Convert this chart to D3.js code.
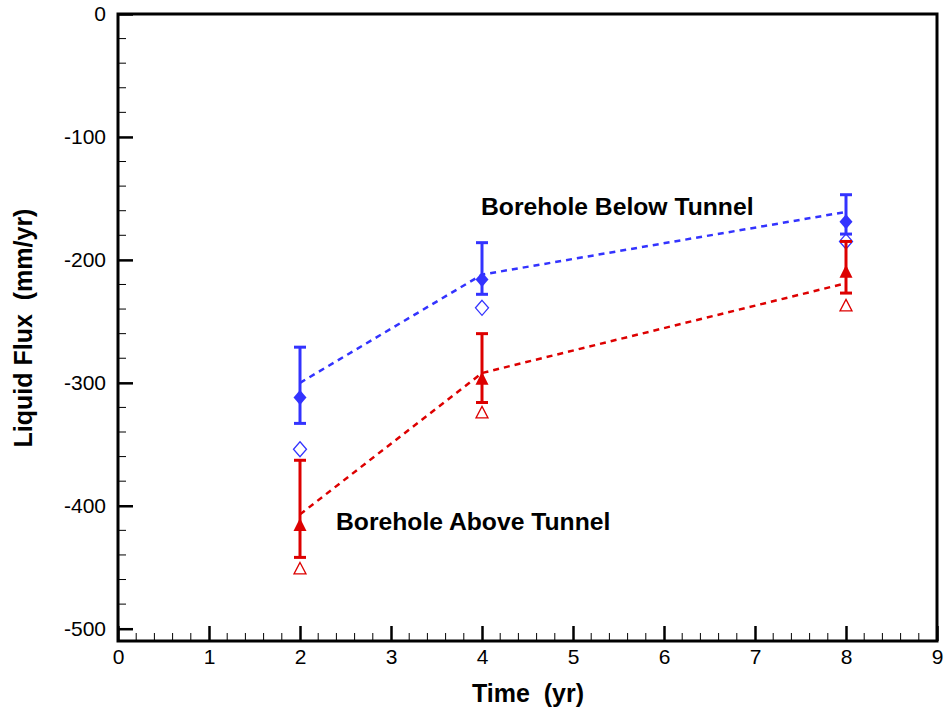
<!DOCTYPE html>
<html><head><meta charset="utf-8">
<script src="https://cdn.jsdelivr.net/npm/d3@7"></script>
<style>body{margin:0;background:#fff}svg{display:block}text{font-family:"Liberation Sans",Arial,sans-serif}</style>
</head><body>
<svg id="c" width="946" height="713"></svg>
<script>
const times = [2, 4, 8];
// Borehole Below Tunnel (blue)
const belowMean = [-312, -216, -169];
const belowHigh = [-271, -186, -147];
const belowLow = [-333, -228, -179];
const belowOpen = [-354, -239, -185];
const belowFit = [-300, -212, -161];
// Borehole Above Tunnel (red)
const aboveMean = [-416, -297, -210];
const aboveHigh = [-363, -260, -185];
const aboveLow = [-442, -316, -227];
const aboveOpen = [-451, -324, -237];
const aboveFit = [-407, -292, -219];

const xTicks = [0,1,2,3,4,5,6,7,8,9];
const yTicks = [0,-100,-200,-300,-400,-500];

const svg = d3.select("#c");
const L = 118, R = 937, T = 14, B = 641;
const x = d3.scaleLinear().domain([0, 9]).range([L, R]);
const y = d3.scaleLinear().domain([-510, 0]).range([B, T]);

const blue = "#3333ff", red = "#dd0000";
const FONT = '"Liberation Sans",Arial,sans-serif';

// minor ticks
const xMinor = d3.range(0, 9.001, 0.2).filter(v => Math.abs(v - Math.round(v)) > 1e-6);
svg.append("g").selectAll("line").data(xMinor).join("line")
  .attr("x1", d => x(d)).attr("x2", d => x(d)).attr("y1", B).attr("y2", B - 8)
  .attr("stroke", "#000").attr("stroke-width", 1);
const yMinor = d3.range(-500, 0.001, 20).filter(v => v % 100 !== 0);
svg.append("g").selectAll("line").data(yMinor).join("line")
  .attr("x1", L).attr("x2", L + 8).attr("y1", d => y(d)).attr("y2", d => y(d))
  .attr("stroke", "#000").attr("stroke-width", 1);

const fmt = d => String(d); // plain hyphen-minus like the original

const xAxis = d3.axisBottom(x).tickValues(xTicks).tickSize(-15).tickPadding(8).tickFormat(fmt);
const gx = svg.append("g").attr("transform", `translate(0,${B})`).call(xAxis);
gx.select(".domain").remove();
gx.selectAll(".tick line").attr("stroke-width", 2.5);
gx.selectAll(".tick text").attr("font-size", 21).attr("fill", "#000").attr("font-family", FONT);

const yAxis = d3.axisLeft(y).tickValues(yTicks).tickSize(-15).tickPadding(12).tickFormat(fmt);
const gy = svg.append("g").attr("transform", `translate(${L},0)`).call(yAxis);
gy.select(".domain").remove();
gy.selectAll(".tick line").attr("stroke-width", 2.5);
gy.selectAll(".tick text").attr("font-size", 21).attr("fill", "#000").attr("font-family", FONT);

// frame
svg.append("rect").attr("x", L).attr("y", T).attr("width", R - L).attr("height", B - T)
  .attr("fill", "none").attr("stroke", "#000").attr("stroke-width", 3);

function series(mean, hi, lo, open, fit, color, filledSym, openSym) {
  const g = svg.append("g");
  const line = d3.line().x((d, i) => x(times[i])).y(d => y(d));
  g.append("path").datum(fit).attr("d", line).attr("fill", "none")
    .attr("stroke", color).attr("stroke-width", 2.5).attr("stroke-dasharray", "6,5");
  times.forEach((t, i) => {
    g.append("line").attr("x1", x(t)).attr("x2", x(t)).attr("y1", y(hi[i])).attr("y2", y(lo[i]))
      .attr("stroke", color).attr("stroke-width", 3);
    [hi[i], lo[i]].forEach(v => g.append("line").attr("x1", x(t) - 6).attr("x2", x(t) + 6)
      .attr("y1", y(v)).attr("y2", y(v)).attr("stroke", color).attr("stroke-width", 3));
  });
  g.selectAll(".f").data(mean).join("path")
    .attr("transform", (d, i) => `translate(${x(times[i])},${y(d)})`)
    .attr("d", filledSym).attr("fill", color);
  g.selectAll(".o").data(open).join("path")
    .attr("transform", (d, i) => `translate(${x(times[i])},${y(d)})`)
    .attr("d", openSym).attr("fill", "none").attr("stroke", color).attr("stroke-width", 1.3);
}
const diamond = "M0,-7.5L6.5,0L0,7.5L-6.5,0Z";
const triF = "M0,-7.5L6.5,5.5L-6.5,5.5Z";
const triO = "M0,-6L6,5.5L-6,5.5Z";
series(belowMean, belowHigh, belowLow, belowOpen, belowFit, blue, diamond, diamond);
series(aboveMean, aboveHigh, aboveLow, aboveOpen, aboveFit, red, triF, triO);

svg.append("text").attr("x", 481).attr("y", 215).attr("font-size", 24.7).attr("font-weight", "bold")
  .text("Borehole Below Tunnel");
svg.append("text").attr("x", 336).attr("y", 530).attr("font-size", 24.7).attr("font-weight", "bold")
  .text("Borehole Above Tunnel");
svg.append("text").attr("x", 528).attr("y", 702).attr("text-anchor", "middle")
  .attr("font-size", 25).attr("font-weight", "bold").attr("xml:space", "preserve").text("Time  (yr)");
svg.append("text").attr("transform", `translate(32,328) rotate(-90)`).attr("text-anchor", "middle")
  .attr("font-size", 25).attr("font-weight", "bold").attr("xml:space", "preserve").text("Liquid Flux  (mm/yr)");
</script>
</body></html>
